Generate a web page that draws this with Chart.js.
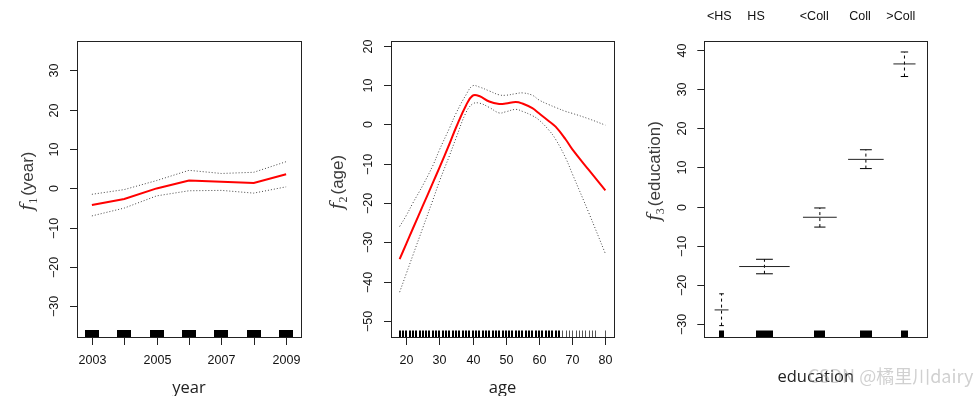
<!DOCTYPE html>
<html><head><meta charset="utf-8">
<script src="https://cdn.jsdelivr.net/npm/chart.js@4/dist/chart.umd.min.js"></script>
<style>
html,body{margin:0;padding:0;background:#fff;width:978px;height:396px;overflow:hidden;position:relative}
canvas{position:absolute;top:0}
</style></head><body>
<canvas id="c1" width="320" height="396" style="left:0;width:320px;height:396px"></canvas>
<canvas id="c2" width="320" height="396" style="left:320px;width:320px;height:396px"></canvas>
<canvas id="c3" width="338" height="396" style="left:640px;width:338px;height:396px"></canvas>
<script>
// ---------- data ----------
const years = [2003, 2004, 2005, 2006, 2007, 2008, 2009];
const yearFit = [-4.2, -2.7, 0.0, 2.0, 1.7, 1.4, 3.6];
const yearUpper = [-1.5, -0.3, 2.0, 4.6, 3.8, 4.1, 6.8];
const yearLower = [-7.0, -5.0, -1.9, -0.6, -0.5, -1.2, 0.4];
const yearTicks = [2003, 2004, 2005, 2006, 2007, 2008, 2009];
const yearTickLabels = [2003, 2005, 2007, 2009];
const f1Ticks = [-30, -20, -10, 0, 10, 20, 30];

const ages = [18, 20, 22, 25, 28, 30, 33, 35, 38, 40, 42, 45, 48, 50, 53, 55, 58, 60, 63, 65, 68, 70, 75, 80];
const ageFit = [-34.3, -30.4, -26.5, -20.7, -14.9, -11.0, -5.0, -0.8, 4.8, 7.3, 7.2, 5.8, 5.2, 5.3, 5.7, 5.3, 4.1, 2.8, 0.8, -0.6, -3.8, -6.3, -11.6, -16.8];
const ageUpper = [-26.0, -23.2, -20.0, -15.5, -10.5, -6.5, -1.0, 2.8, 7.5, 9.8, 9.5, 8.5, 7.5, 7.4, 7.8, 8.0, 7.4, 6.2, 5.0, 4.3, 3.3, 2.8, 1.4, -0.2];
const ageLower = [-42.7, -38.0, -33.3, -26.3, -19.3, -14.5, -8.0, -3.5, 3.0, 5.2, 5.4, 4.3, 2.9, 3.2, 3.8, 3.3, 2.2, 1.1, -1.5, -3.8, -8.5, -12.5, -22.5, -32.9];
const ageTicks = [20, 30, 40, 50, 60, 70, 80];
const f2Ticks = [-50, -40, -30, -20, -10, 0, 10, 20];
const rugAgesDense = [];
for (let a = 18; a <= 66; a++) rugAgesDense.push(a);
const rugAgesSparse = [67, 68, 69, 70, 71, 72, 73, 74, 75, 76, 77, 80];

const eduLevels = ['<HS', 'HS', '<Coll', 'Coll', '>Coll'];
const eduCounts = [268, 971, 650, 685, 426];
const eduPos = [0.067, 0.232, 0.493, 0.698, 0.881];
const eduFit = [-26.3, -15.25, -2.7, 12.05, 36.36];
const eduUpper = [-22.2, -13.4, -0.33, 14.5, 39.4];
const eduLower = [-30.3, -17.1, -5.2, 9.7, 33.15];
const f3Ticks = [-30, -20, -10, 0, 10, 20, 30, 40];

// ---------- helpers ----------
const TICK_FONT = '12.5px "Liberation Sans", Arial, sans-serif';
const TITLE_FONT = '16.5px "Open Sans", "Liberation Sans", sans-serif';
const WIDTH_PER_COUNT = 0.000233;
function fmt(v) { return v < 0 ? '\u2212' + Math.abs(v) : String(v); }
function px(v) { return Math.round(v) + 0.5; }

function drawMathTitle(ctx, bx, cy, sub, word) {
  ctx.save();
  ctx.translate(bx, cy);
  ctx.rotate(-Math.PI / 2);
  ctx.fillStyle = '#3a3a3a';
  ctx.textBaseline = 'alphabetic';
  ctx.textAlign = 'left';
  const fF = 'italic 18px "DejaVu Serif", "Liberation Serif", serif';
  const sF = '12px "Liberation Serif", serif';
  const wF = '17px "Liberation Sans", Arial, sans-serif';
  ctx.font = fF; const w1 = ctx.measureText('f').width;
  ctx.font = sF; const w2 = ctx.measureText(sub).width;
  ctx.font = wF; const w3 = ctx.measureText(word).width;
  const total = w1 + w2 + 2 + w3;
  let x0 = -total / 2;
  ctx.font = fF; ctx.fillText('f', x0, 0); x0 += w1;
  ctx.font = sF; ctx.fillText(sub, x0, 4); x0 += w2 + 2;
  ctx.font = wF; ctx.fillText(word, x0, 0);
  ctx.restore();
}

function framePlugin(o) {
  return {
    id: 'frame_' + o.key,
    afterDatasetsDraw(chart) {
      const { ctx, chartArea: a, scales: { x, y } } = chart;
      ctx.save();
      ctx.fillStyle = '#000'; ctx.strokeStyle = '#000';
      if (o.rug) o.rug(ctx, a, x, y);
      ctx.strokeStyle = '#222'; ctx.lineWidth = 1; ctx.setLineDash([]);
      ctx.strokeRect(px(a.left), px(a.top), Math.round(a.right - a.left), Math.round(a.bottom - a.top));
      ctx.font = TICK_FONT; ctx.fillStyle = '#111';
      ctx.textAlign = 'center'; ctx.textBaseline = 'middle';
      o.yTicks.forEach(v => {
        const py = px(y.getPixelForValue(v));
        ctx.beginPath(); ctx.moveTo(a.left - 7, py); ctx.lineTo(a.left, py); ctx.stroke();
        ctx.save(); ctx.translate(a.left - 22, py); ctx.rotate(-Math.PI / 2);
        ctx.fillText(fmt(v), 0, 0); ctx.restore();
      });
      if (o.xTicks) {
        o.xTicks.forEach(v => {
          const pxv = px(x.getPixelForValue(v));
          ctx.beginPath(); ctx.moveTo(pxv, a.bottom); ctx.lineTo(pxv, a.bottom + 8); ctx.stroke();
          if (o.xLabels.includes(v)) ctx.fillText(String(v), pxv, a.bottom + 24);
        });
      }
      if (o.topLabels) {
        o.topLabels.forEach((t, i) => ctx.fillText(t, x.getPixelForValue(o.topPos[i]), 17));
      }
      drawMathTitle(ctx, o.titleX, o.titleY, o.sub, o.word);
      ctx.font = TITLE_FONT; ctx.fillStyle = '#222'; ctx.textAlign = 'center'; ctx.textBaseline = 'alphabetic';
      ctx.fillText(o.xTitle, (a.left + a.right) / 2, o.xTitleY);
      if (o.extra) o.extra(ctx, a);
      ctx.restore();
    }
  };
}

function baseOptions(pad, xr, yr) {
  return {
    responsive: false, animation: false, devicePixelRatio: 1,
    layout: { padding: pad },
    plugins: { legend: { display: false }, tooltip: { enabled: false } },
    elements: { point: { radius: 0 }, line: { borderCapStyle: 'butt' } },
    scales: {
      x: { type: 'linear', display: false, min: xr[0], max: xr[1] },
      y: { type: 'linear', display: false, min: yr[0], max: yr[1] }
    }
  };
}
const pts = (xs, ys) => xs.map((x, i) => ({ x, y: ys[i] }));
const dotted = { borderColor: '#444', borderWidth: 1, borderDash: [1, 2], pointRadius: 0, fill: false };

// ---------- panel 1 ----------
new Chart(document.getElementById('c1'), {
  type: 'line',
  data: { datasets: [
    { data: pts(years, yearUpper), ...dotted, tension: 0 },
    { data: pts(years, yearLower), ...dotted, tension: 0 },
    { data: pts(years, yearFit), borderColor: '#ff0000', borderWidth: 2, pointRadius: 0, tension: 0 }
  ] },
  options: baseOptions({ left: 77, right: 19, top: 41, bottom: 59 }, [2002.54, 2009.46], [-37.8, 37.5]),
  plugins: [framePlugin({
    key: 'p1', yTicks: f1Ticks, xTicks: yearTicks, xLabels: yearTickLabels,
    titleX: 33, titleY: 181, sub: '1', word: '(year)', xTitle: 'year', xTitleY: 393,
    rug(ctx, a, x) {
      years.forEach(yv => {
        const l = x.getPixelForValue(yv - 0.217), r = x.getPixelForValue(yv + 0.217);
        ctx.fillRect(Math.round(l), a.bottom - 7, Math.round(r - l), 7);
      });
    }
  })]
});

// ---------- panel 2 ----------
new Chart(document.getElementById('c2'), {
  type: 'line',
  data: { datasets: [
    { data: pts(ages, ageUpper), ...dotted, tension: 0.4 },
    { data: pts(ages, ageLower), ...dotted, tension: 0.4 },
    { data: pts(ages, ageFit), borderColor: '#ff0000', borderWidth: 2, pointRadius: 0, tension: 0.4 }
  ] },
  options: baseOptions({ left: 71, right: 26, top: 41, bottom: 59 }, [15.4, 82.6], [-54.1, 21.2]),
  plugins: [framePlugin({
    key: 'p2', yTicks: f2Ticks, xTicks: ageTicks, xLabels: ageTicks,
    titleX: 23, titleY: 182, sub: '2', word: '(age)', xTitle: 'age', xTitleY: 393,
    rug(ctx, a, x) {
      ctx.lineWidth = 1;
      rugAgesDense.forEach(av => {
        const l = x.getPixelForValue(av - 0.3), r = x.getPixelForValue(av + 0.3);
        ctx.fillRect(Math.round(l), a.bottom - 6.5, Math.max(1, Math.round(r - l)), 6.5);
      });
      ctx.strokeStyle = '#555';
      rugAgesSparse.forEach(av => {
        const p = px(x.getPixelForValue(av));
        ctx.beginPath(); ctx.moveTo(p, a.bottom - 6.5); ctx.lineTo(p, a.bottom); ctx.stroke();
      });
    }
  })]
});

// ---------- panel 3 ----------
const eduDatasets = [];
eduLevels.forEach((lv, i) => {
  const w = eduCounts[i] * WIDTH_PER_COUNT;
  const c = eduPos[i] + w / 6;
  eduDatasets.push({ data: [{ x: eduPos[i] - w / 3, y: eduFit[i] }, { x: eduPos[i] + 2 * w / 3, y: eduFit[i] }], borderColor: '#222', borderWidth: 1, pointRadius: 0 });
  eduDatasets.push({ data: [{ x: c, y: eduLower[i] }, { x: c, y: eduUpper[i] }], borderColor: '#000', borderWidth: 1, borderDash: [3, 3], pointRadius: 0 });
  eduDatasets.push({ data: [{ x: c - w / 6, y: eduUpper[i] }, { x: c + w / 6, y: eduUpper[i] }], borderColor: '#000', borderWidth: 1, pointRadius: 0 });
  eduDatasets.push({ data: [{ x: c - w / 6, y: eduLower[i] }, { x: c + w / 6, y: eduLower[i] }], borderColor: '#000', borderWidth: 1, pointRadius: 0 });
});
new Chart(document.getElementById('c3'), {
  type: 'line',
  data: { datasets: eduDatasets },
  options: baseOptions({ left: 64.3, right: 50.7, top: 41, bottom: 59 }, [0, 1], [-33.2, 42.2]),
  plugins: [framePlugin({
    key: 'p3', yTicks: f3Ticks, topLabels: eduLevels, topPos: eduPos,
    titleX: 20, titleY: 171, sub: '3', word: '(education)', xTitle: 'education', xTitleY: 382,
    rug(ctx, a, x) {
      eduLevels.forEach((lv, i) => {
        const w = eduCounts[i] * WIDTH_PER_COUNT;
        const l = x.getPixelForValue(eduPos[i]), r = x.getPixelForValue(eduPos[i] + w / 3);
        ctx.fillRect(Math.round(l), a.bottom - 6.5, Math.round(r - l), 6.5);
      });
    },
    extra(ctx, a) {
      ctx.font = '18px "Noto Sans CJK SC", "Open Sans", sans-serif';
      ctx.fillStyle = 'rgba(150,150,150,0.45)';
      ctx.textAlign = 'left';
      ctx.fillText('CSDN @橘里川dairy', 168, 383);
    }
  })]
});
</script>
</body></html>
